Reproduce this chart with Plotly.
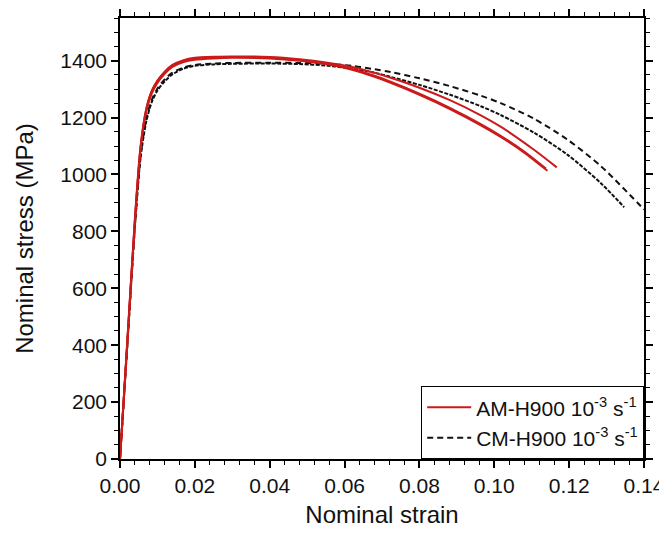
import plotly.graph_objects as go

# ---- data (nominal strain, nominal stress in MPa) ----
am1_strain = [0, 0.002, 0.004, 0.0055, 0.007, 0.0085, 0.010, 0.012, 0.014, 0.017, 0.020, 0.025, 0.030,
              0.040, 0.048, 0.055, 0.062, 0.068, 0.0723, 0.080, 0.088, 0.0964, 0.1017, 0.108, 0.1142]
am1_stress = [0, 420, 840, 1090, 1220, 1285, 1322, 1355, 1378, 1395, 1403, 1408, 1410,
              1408, 1400, 1388, 1368, 1343, 1322, 1280, 1231, 1173, 1132, 1077, 1013]

am2_strain = [0, 0.002, 0.004, 0.0055, 0.007, 0.0085, 0.010, 0.012, 0.014, 0.017, 0.020, 0.025, 0.030,
              0.040, 0.048, 0.055, 0.062, 0.068, 0.0723, 0.080, 0.088, 0.0964, 0.1017, 0.1106, 0.1167]
am2_stress = [0, 420, 840, 1095, 1230, 1295, 1330, 1362, 1385, 1402, 1410, 1414, 1415,
              1413, 1405, 1394, 1378, 1357, 1340, 1305, 1262, 1208, 1168, 1087, 1025]

am3_strain = [0, 0.002, 0.004, 0.0055, 0.007, 0.0085, 0.010, 0.012, 0.014, 0.017, 0.020, 0.025, 0.030,
              0.040, 0.048, 0.055, 0.062, 0.068, 0.0723, 0.080, 0.088, 0.0964, 0.1017, 0.108, 0.1138]
am3_stress = [0, 425, 850, 1100, 1228, 1292, 1328, 1360, 1383, 1400, 1408, 1412, 1413,
              1410, 1402, 1390, 1371, 1347, 1326, 1284, 1235, 1177, 1136, 1081, 1021]

cm1_strain = [0, 0.002, 0.004, 0.0055, 0.007, 0.0085, 0.010, 0.012, 0.014, 0.017, 0.020, 0.025, 0.030,
              0.040, 0.048, 0.055, 0.062, 0.068, 0.0723, 0.080, 0.088, 0.0964, 0.1017, 0.1106, 0.1196,
              0.1285, 0.1347]
cm1_stress = [0, 410, 820, 1060, 1185, 1255, 1295, 1328, 1352, 1372, 1382, 1387, 1389,
              1390, 1388, 1383, 1372, 1358, 1343, 1315, 1281, 1240, 1209, 1147, 1069,
              969, 885]

cm2_strain = [0, 0.002, 0.004, 0.0055, 0.007, 0.0085, 0.010, 0.012, 0.014, 0.017, 0.020, 0.025, 0.030,
              0.040, 0.048, 0.055, 0.062, 0.068, 0.0723, 0.080, 0.088, 0.0964, 0.1017, 0.1106, 0.1196,
              0.1285, 0.1392, 0.1400]
cm2_stress = [0, 410, 820, 1065, 1195, 1262, 1302, 1335, 1358, 1376, 1385, 1390, 1392,
              1393, 1392, 1389, 1382, 1370, 1360, 1338, 1311, 1277, 1251, 1196, 1122,
              1029, 888, 877]

am_label = "AM-H900 10<sup>-3</sup> s<sup>-1</sup>"
cm_label = "CM-H900 10<sup>-3</sup> s<sup>-1</sup>"

x_ticks = [0.00, 0.02, 0.04, 0.06, 0.08, 0.10, 0.12, 0.14]
y_ticks = [0, 200, 400, 600, 800, 1000, 1200, 1400]

RED = "#cc1a1a"
BLACK = "#111111"
FONT = "Liberation Sans, Arial, sans-serif"

fig = go.Figure()

# CM curves (black dashed)
fig.add_trace(go.Scatter(x=cm1_strain, y=cm1_stress, mode="lines", name=cm_label,
                         line=dict(color=BLACK, width=2, dash="4px,1.5px", shape="spline", smoothing=0.8),
                         legendgroup="cm", showlegend=False))
fig.add_trace(go.Scatter(x=cm2_strain, y=cm2_stress, mode="lines", name=cm_label,
                         line=dict(color=BLACK, width=2, dash="6px,4px", shape="spline", smoothing=0.8),
                         legendgroup="cm", showlegend=True, legendrank=2))

# AM curves (red solid)
for i, (xs, ys) in enumerate([(am1_strain, am1_stress), (am3_strain, am3_stress), (am2_strain, am2_stress)]):
    fig.add_trace(go.Scatter(x=xs, y=ys, mode="lines", name=am_label,
                             line=dict(color=RED, width=2, shape="spline", smoothing=0.8),
                             legendgroup="am", showlegend=(i == 0), legendrank=1))

axis_common = dict(
    showline=True, linecolor="black", linewidth=1.5, mirror="ticks",
    ticks="outside", ticklen=7, tickwidth=1.5, tickcolor="black",
    showgrid=False, zeroline=False, automargin=False,
    ticklabeloverflow="allow",
    tickfont=dict(family=FONT, size=21, color=BLACK),
)

fig.update_xaxes(
    range=[0, 0.14], tickvals=x_ticks, ticktext=[f"{v:.2f}" for v in x_ticks],
    title=dict(text="Nominal strain", font=dict(family=FONT, size=24, color=BLACK), standoff=10),
    minor=dict(dtick=0.004, tick0=0, ticks="outside", ticklen=4, tickwidth=1.2, tickcolor="black"),
    **axis_common,
)
fig.update_yaxes(
    range=[0, 1550], tickvals=y_ticks, ticktext=[str(v) for v in y_ticks],
    title=dict(text="Nominal stress (MPa)", font=dict(family=FONT, size=24, color=BLACK), standoff=20),
    minor=dict(dtick=50, tick0=0, ticks="outside", ticklen=4, tickwidth=1.2, tickcolor="black"),
    **axis_common,
)

# the page body adds an 8 px margin, so the figure is sized to fit inside the window without scrolling
fig.update_layout(
    width=659, height=525,
    margin=dict(l=112, r=23, t=10, b=74),
    paper_bgcolor="white", plot_bgcolor="white",
    font=dict(family=FONT, size=20, color=BLACK),
    legend=dict(x=1, y=0, xanchor="right", yanchor="bottom",
                bordercolor="black", borderwidth=1.2, bgcolor="white",
                font=dict(family=FONT, size=21, color=BLACK),
                tracegroupgap=0, itemwidth=44),
)

fig.write_html("out.html")
